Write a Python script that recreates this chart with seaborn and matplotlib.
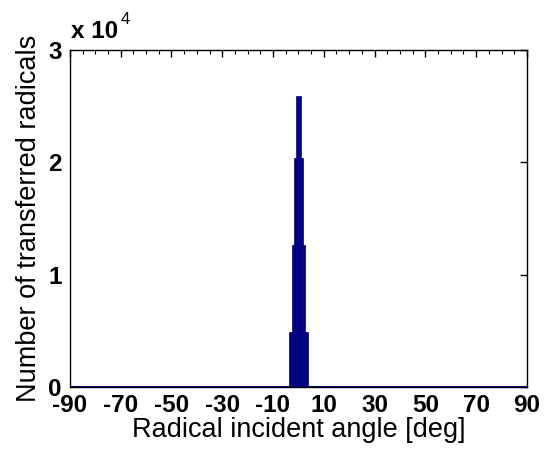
import numpy as np
import pandas as pd
import matplotlib
matplotlib.use('Agg')
import matplotlib.pyplot as plt
import seaborn as sns

# histogram data: bin centres (deg) with non-zero counts, 0.9 deg bins over -90..90
angles = [-3.15, -2.25, -1.35, -0.45, 0.45, 1.35, 2.25, 3.15]
counts = [4900, 12600, 20400, 25900, 25900, 20400, 12600, 4900]
xticks = [-90, -70, -50, -30, -10, 10, 30, 50, 70, 90]
yticks = [0, 1, 2, 3]

sns.set_style('white')
plt.rcParams['font.family'] = ['Liberation Sans', 'DejaVu Sans']
plt.rcParams['text.color'] = 'black'
plt.rcParams['xtick.color'] = 'black'
plt.rcParams['ytick.color'] = 'black'
plt.rcParams['axes.labelcolor'] = 'black'

fig = plt.figure(figsize=(5.5, 4.5), dpi=100)
ax = fig.add_axes([0.127, 0.14, 0.831, 0.749])

df = pd.DataFrame({'angle': angles, 'count': counts})
sns.histplot(data=df, x='angle', weights='count', binwidth=0.9, binrange=(-90, 90),
             color='#000080', alpha=1, edgecolor='#000080', linewidth=0.5, ax=ax)
ax.axhline(0, color='#000080', lw=1.5)

ax.set_xlim(-90, 90)
ax.set_ylim(0, 30000)
ax.set_xticks(xticks)
ax.set_xticklabels([str(t) for t in xticks], fontsize=17.5, fontweight='bold')
ax.set_xticks(np.arange(-90, 91, 5), minor=True)
ax.set_yticks([v * 1e4 for v in yticks])
ax.set_yticklabels([str(v) for v in yticks], fontsize=17.5, fontweight='bold')
ax.tick_params(which='both', direction='in', top=True, right=True)
ax.tick_params(axis='x', pad=5)
ax.tick_params(axis='y', pad=6)
ax.tick_params(which='major', length=5, width=1)
ax.tick_params(which='minor', length=3, width=0.8)
for s in ax.spines.values():
    s.set_color('black')
    s.set_linewidth(1)

ax.set_xlabel('Radical incident angle [deg]', fontsize=19.5, labelpad=0)
ax.set_ylabel('Number of transferred radicals', fontsize=19.5, labelpad=4)

ax.text(0.002, 1.02, 'x 10', transform=ax.transAxes, fontsize=17.5, fontweight='bold',
        ha='left', va='bottom')
ax.text(0.112, 1.067, '4', transform=ax.transAxes, fontsize=12, ha='left', va='bottom')

fig.savefig('out.png', dpi=100)
